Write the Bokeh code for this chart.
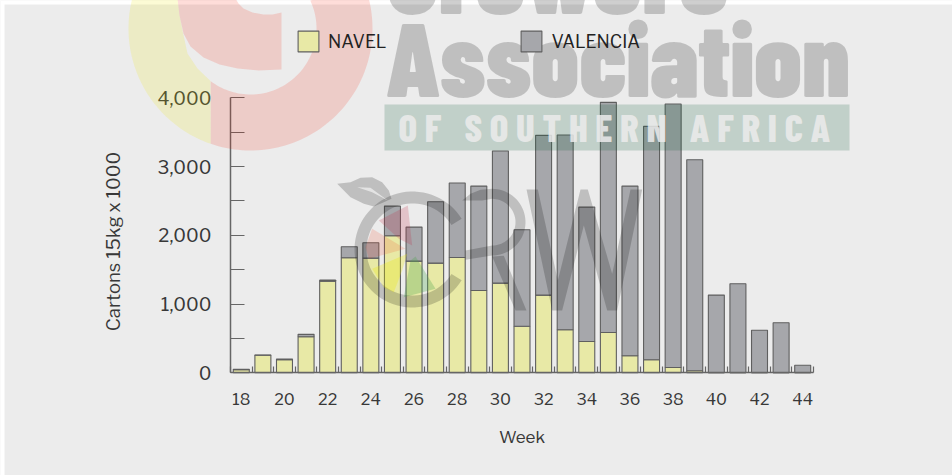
import numpy as np
from bokeh.plotting import figure
from bokeh.embed import file_html
from bokeh.resources import INLINE
from bokeh.core.properties import value
from bokeh.models import (FixedTicker, NumeralTickFormatter, Legend, LegendItem, LinearAxis,
                          Range1d, ColumnDataSource)

# ---------- chart data ----------
weeks = list(range(18, 45))
navel = [45, 255, 190, 525, 1333, 1674, 1668, 1994, 1625, 1595, 1678, 1198, 1304, 678,
         1130, 626, 456, 587, 247, 189, 77, 29, 0, 0, 0, 0, 0]
valencia = [5, 5, 10, 34, 15, 160, 224, 431, 494, 894, 1082, 1518, 1922, 1403,
            2324, 2833, 1954, 3347, 2469, 3396, 3833, 3071, 1130, 1295, 620, 728, 110]
series = ["NAVEL", "VALENCIA"]
x_tick_labels = list(range(18, 45, 2))
y_major = [0, 1000, 2000, 3000, 4000]
y_minor = [500, 1500, 2500, 3500]

W, H = 952, 475
FL, FR, FT, FB = 230, 813, 97.3, 372.3          # plot area on the page
FONT = "Libre Franklin, Liberation Sans"
TXT = "#383838"

ux = (FR - FL) / 27
uy = (FB - FT) / 4000
p = figure(width=W, height=H, output_backend="svg", toolbar_location=None,
           x_range=Range1d(17.5 - FL / ux, 44.5 + (W - FR) / ux),
           y_range=Range1d(-(H - FB) / uy, 4000 + FT / uy),
           min_border=0, x_axis_location=None, y_axis_location=None,
           border_fill_color="#ececec", background_fill_color="#ececec", outline_line_color=None)
p.grid.visible = False
p.extra_x_ranges = {"px": Range1d(0, W)}
p.extra_y_ranges = {"py": Range1d(H, 0)}

src = ColumnDataSource(dict(week=weeks, NAVEL=navel, VALENCIA=valencia))
stack = p.vbar_stack(series, x="week", width=0.74, source=src,
                     fill_color=["#e8e9a6", "#a6a7ab"], line_color="#5f5f5f", line_width=1.1)

xa = LinearAxis(fixed_location=0, bounds=(17.5, 44.5), axis_label="Week")
xa.ticker = FixedTicker(ticks=x_tick_labels, minor_ticks=[w - 0.5 for w in weeks] + [44.5])
xa.major_tick_line_color = None
xa.minor_tick_in = 6
xa.minor_tick_out = 0
xa.minor_tick_line_color = "#666666"
xa.minor_tick_line_width = 1.2
xa.axis_line_color = "#666666"
xa.axis_line_width = 1.5
xa.major_label_standoff = 14
xa.major_label_text_font = FONT
xa.major_label_text_font_size = "16px"
xa.major_label_text_color = TXT
xa.axis_label_standoff = 19
xa.axis_label_text_font = FONT
xa.axis_label_text_font_size = "17px"
xa.axis_label_text_font_style = "normal"
xa.axis_label_text_color = TXT
p.add_layout(xa, "below")

ya = LinearAxis(fixed_location=17.5, bounds=(0, 4000))
ya.ticker = FixedTicker(ticks=y_major, minor_ticks=y_minor)
ya.formatter = NumeralTickFormatter(format="0,0")
for a in ("major", "minor"):
    setattr(ya, a + "_tick_in", 14)
    setattr(ya, a + "_tick_out", 0)
    setattr(ya, a + "_tick_line_color", "#666666")
    setattr(ya, a + "_tick_line_width", 1.2)
ya.axis_line_color = "#666666"
ya.axis_line_width = 1.5
ya.major_label_standoff = 19
ya.major_label_text_font = FONT
ya.major_label_text_font_size = "18.5px"
ya.major_label_text_color = TXT
p.add_layout(ya, "left")

legend = Legend(items=[LegendItem(label=s, renderers=[r]) for s, r in zip(series, stack)],
                orientation="horizontal", location=(295, H - 54), spacing=132,
                glyph_width=26, glyph_height=26, label_standoff=7, padding=0, margin=0,
                border_line_color=None, background_fill_color=None,
                label_text_font=FONT, label_text_font_size="17.5px", label_text_color="#222222")
p.add_layout(legend)


# ---------- helpers working in page pixels ----------
def poly(pts, color, alpha):
    p.patch([float(a) for a, b in pts], [float(b) for a, b in pts], x_range_name="px", y_range_name="py",
            level="overlay", fill_color=color, fill_alpha=alpha, line_color=None)


def word(x, y, txt, font, size, color, alpha=1.0, angle=0.0, align="left", baseline="alphabetic"):
    p.text([x], [y], text=[txt], x_range_name="px", y_range_name="py", level="overlay",
           text_font=value(font), text_font_size=size, text_color=color, text_alpha=alpha,
           angle=angle, text_align=align, text_baseline=baseline)


def arc(cx, cy, r, a0, a1, n=70):
    t = np.radians(np.linspace(a0, a1, n))
    return list(zip(cx + r * np.cos(t), cy + r * np.sin(t)))


def zm(pts, x0, y0):
    return [(x0 + a / 3, y0 + b / 3) for a, b in pts]


# rotated value-axis title
word(113, 241, "Cartons 15kg x 1000", FONT, "18.5px", TXT, angle=np.pi / 2, align="center", baseline="middle")

# white page edge
poly([(0, 0), (W, 0), (W, 4), (4, 4), (4, H), (0, H)], "#ffffff", 1)

# big spiral
YEL, YA = "#ece606", 0.17
PNK, PA = "#f91d00", 0.15
poly(arc(250, 28, 122, 109, 200) + [(177, -2), (179, 15), (182, 30), (187, 53), (197, 68), (210, 80.6)], YEL, YA)
poly(arc(250, 28, 122, -20, 109) + arc(250, 28, 66, 127, -25), PNK, PA)
poly([(177, -2), (179, 15), (183, 33), (190, 46), (203, 57), (219, 64), (237, 68), (258, 70), (281, 69),
      (281, 12), (272, 14), (263, 14), (252, 12), (243, 8), (238, 3), (235, -2)], PNK, PA)

# wordmark
WM = "Barlow Condensed Black"
word(386, 14 - 44, "Growers", WM, "109px", "#000000", 0.19)
word(385, 97 - 42, "Association", WM, "104px", "#000000", 0.19)
poly([(384, 104), (849, 104), (849, 150), (384, 150)], "#095834", 0.19)
word(398, 141 - 15, "O F\u00a0\u00a0 S O U T H E R N\u00a0\u00a0 A F R I C A", "Barlow Condensed ExtraBold", "38.7px", "#ececec", 0.85)

# CRW mark
GR, GA = "#000000", 0.19
poly(arc(412, 249, 58, 32, 328) + arc(412, 249, 46, 328, 32), GR, GA)
poly(zm([(20, 40), (60, 35), (90, 22), (125, 20), (155, 35), (175, 60), (183, 85), (160, 95), (130, 108),
         (100, 100), (60, 80)], 330, 170), GR, GA)
poly(zm([(80, 50), (120, 52), (172, 90), (125, 65)], 330, 170), "#f2f2f2", 0.7)
poly(zm([(145, 150), (232, 105), (245, 225), (205, 205)], 330, 170), "#c2243f", 0.2)
poly(zm([(125, 175), (225, 235), (115, 265), (105, 230)], 330, 170), "#f1502a", 0.18)
poly(zm([(125, 295), (230, 250), (215, 300), (190, 365), (160, 350)], 330, 170), "#eeea00", 0.28)
poly(zm([(240, 270), (255, 258), (315, 355), (220, 380)], 330, 170), "#4da64d", 0.3)

# R
bowl = [(35, 90), (60, 70), (90, 58)] + arc(125, 155, 100, -90, 90, 40) + [(45, 268), (45, 240)] \
       + arc(125, 155, 70, 90, -90, 40) + [(95, 90)]
poly(zm(bowl, 450, 170), GR, GA)
poly(zm([(125, 258), (160, 256), (228, 420), (195, 420)], 450, 170), GR, GA)
# W
poly(zm([(228, 57), (262, 57), (322, 330), (390, 57), (412, 57), (485, 310), (540, 57), (575, 57),
         (500, 420), (470, 420), (400, 165), (335, 420), (305, 420)], 450, 170), GR, GA)

open("out.html", "w").write(file_html(p, INLINE))
